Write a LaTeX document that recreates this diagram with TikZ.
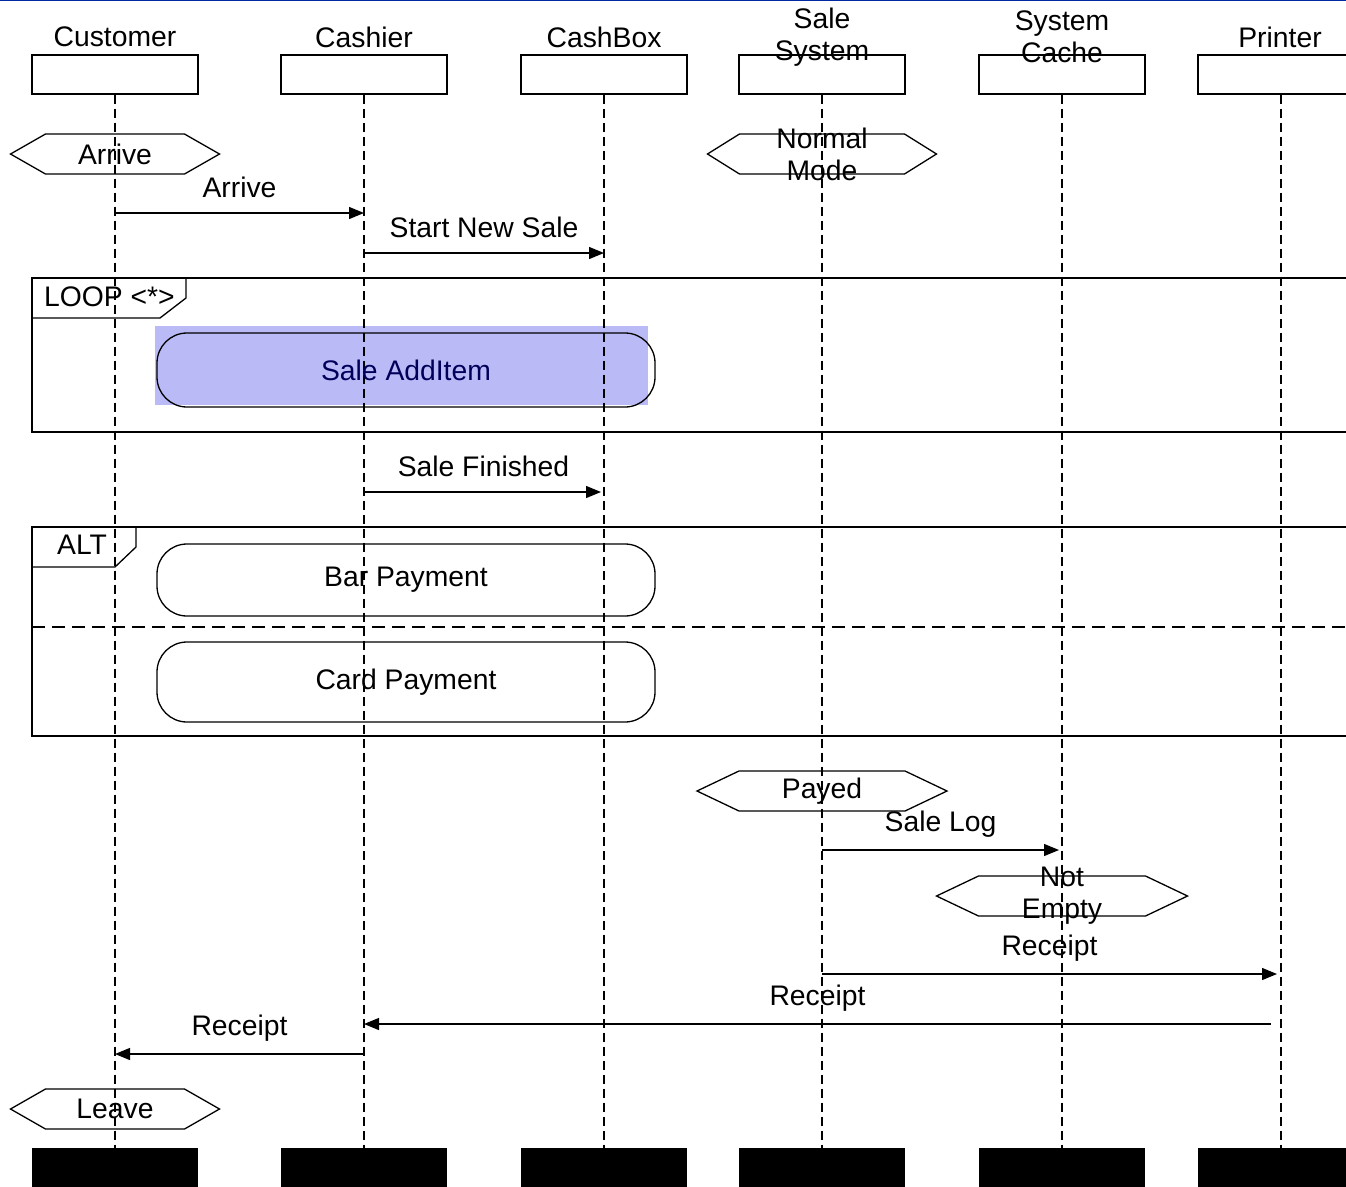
\documentclass[tikz,border=0pt]{standalone}
\usepackage{fontspec}
\setmainfont{Liberation Sans}
\usetikzlibrary{arrows.meta}
\definecolor{topblue}{RGB}{0,40,160}
\definecolor{itemfill}{RGB}{186,186,246}
\definecolor{itemtext}{RGB}{0,0,90}
\tikzset{
  txt/.style={font=\fontsize{28.3}{32}\selectfont, align=center, inner sep=0pt},
  headbox/.style={draw, line width=1.1pt, minimum width=166pt, minimum height=39pt, inner sep=0pt},
  footbox/.style={fill=black, minimum width=166pt, minimum height=40pt, inner sep=0pt},
  life/.style={line width=1.1pt, dash pattern=on 9pt off 5pt},
  msg/.style={line width=1.3pt, -{Triangle[length=15pt, width=12pt]}},
  lbl/.style={txt, yshift=26pt},
  frame/.style={line width=1.3pt},
  hexline/.style={line width=1.3pt},
  frag/.style={draw, line width=1.3pt, rounded corners=30pt, font=\fontsize{28.3}{32}\selectfont},
}
% state marker: name, x, y, half width, slant, text
\newcommand{\statemark}[6]{%
  \draw[hexline] ({#2-#4},#3) -- ({#2-#4+#5},{#3-20}) -- ({#2+#4-#5},{#3-20})
    -- ({#2+#4},#3) -- ({#2+#4-#5},{#3+20}) -- ({#2-#4+#5},{#3+20}) -- cycle;
  \node[txt] (#1) at (#2,#3) {#6};}
\begin{document}
\begin{tikzpicture}[x=1pt, y=-1pt]
\clip (0,0) rectangle (1346,1186);
\fill[white] (0,0) rectangle (1346,1186);
\draw[topblue, line width=2pt] (0,0) -- (1346,0);

% participants
\node[headbox] (hCust)  at (115,74.5) {};
\node[headbox] (hCash)  at (364,74.5) {};
\node[headbox] (hBox)   at (604,74.5) {};
\node[headbox] (hSale)  at (822,74.5) {};
\node[headbox] (hCache) at (1062,74.5) {};
\node[headbox] (hPrint) at (1281,74.5) {};
\node[txt] (tCust)  at (115,37) {Customer};
\node[txt] (tCash)  at (364,37) {Cashier};
\node[txt] (tBox)   at (604,37) {CashBox};
\node[txt] (tSale)  at (822,37) {Sale\\System};
\node[txt] (tCache) at (1062,37) {System\\Cache};
\node[txt] (tPrint) at (1280,37) {Printer};

\node[footbox] (fCust)  at (115,1168) {};
\node[footbox] (fCash)  at (364,1168) {};
\node[footbox] (fBox)   at (604,1168) {};
\node[footbox] (fSale)  at (822,1168) {};
\node[footbox] (fCache) at (1062,1168) {};
\node[footbox] (fPrint) at (1281,1168) {};

% LOOP fragment body fill
\fill[itemfill] (155,326) rectangle (648,405);

% lifelines
\foreach \p in {Cust,Cash,Box,Sale,Cache,Print}
  \draw[life] (h\p) -- (f\p);

% states
\statemark{sArrive}{115}{154}{104.5}{35}{Arrive}
\statemark{sNormal}{822}{154}{114.5}{32}{Normal\\Mode}

% messages
\draw[msg] (hCust |- 0,213) -- node[lbl] {Arrive} (hCash |- 0,213);
\draw[msg] (hCash |- 0,253) -- node[lbl] {Start New Sale} (hBox |- 0,253);

% LOOP frame
\draw[frame] (1350,278) -- (32,278) -- (32,432) -- (1350,432);
\draw[frame] (32,318) -- (160,318) -- (186,298) -- (186,278);
\node[txt, anchor=west] (loopTag) at (44,297) {LOOP <*>};
\node[frag, minimum width=498pt, minimum height=74pt, text=itemtext] (addItem) at (406,370) {Sale AddItem};

\draw[msg] (hCash |- 0,492) -- node[lbl, xshift=1pt] {Sale Finished} ([xshift=-3pt]hBox |- 0,492);

% ALT frame
\draw[frame] (1350,527) -- (32,527) -- (32,736) -- (1350,736);
\draw[frame] (32,567) -- (115,567) -- (136,547) -- (136,527);
\node[txt, anchor=west] (altTag) at (57,545) {ALT};
\draw[line width=1.3pt, dash pattern=on 13pt off 7pt] (32,627) -- (1350,627);
\node[frag, minimum width=498pt, minimum height=72pt] (barPay) at (406,580) {Bar Payment};
\node[frag, minimum width=498pt, minimum height=80pt] (cardPay) at (406,682) {Card Payment};

% payment outcome
\statemark{sPayed}{822}{791}{125}{42}{Payed}
\draw[msg] (hSale |- 0,850) -- node[lbl] {Sale Log} ([xshift=-3pt]hCache |- 0,850);
\statemark{sNotEmpty}{1062}{896}{125.5}{42}{Not\\Empty}
\draw[msg] (hSale |- 0,974) -- node[lbl] {Receipt} ([xshift=-4pt]hPrint |- 0,974);
\draw[msg] ([xshift=-10pt]hPrint |- 0,1024) -- node[lbl] {Receipt} (hCash |- 0,1024);
\draw[msg] (hCash |- 0,1054) -- node[lbl] {Receipt} (hCust |- 0,1054);
\statemark{sLeave}{115}{1109}{104.5}{35}{Leave}
\end{tikzpicture}
\end{document}
